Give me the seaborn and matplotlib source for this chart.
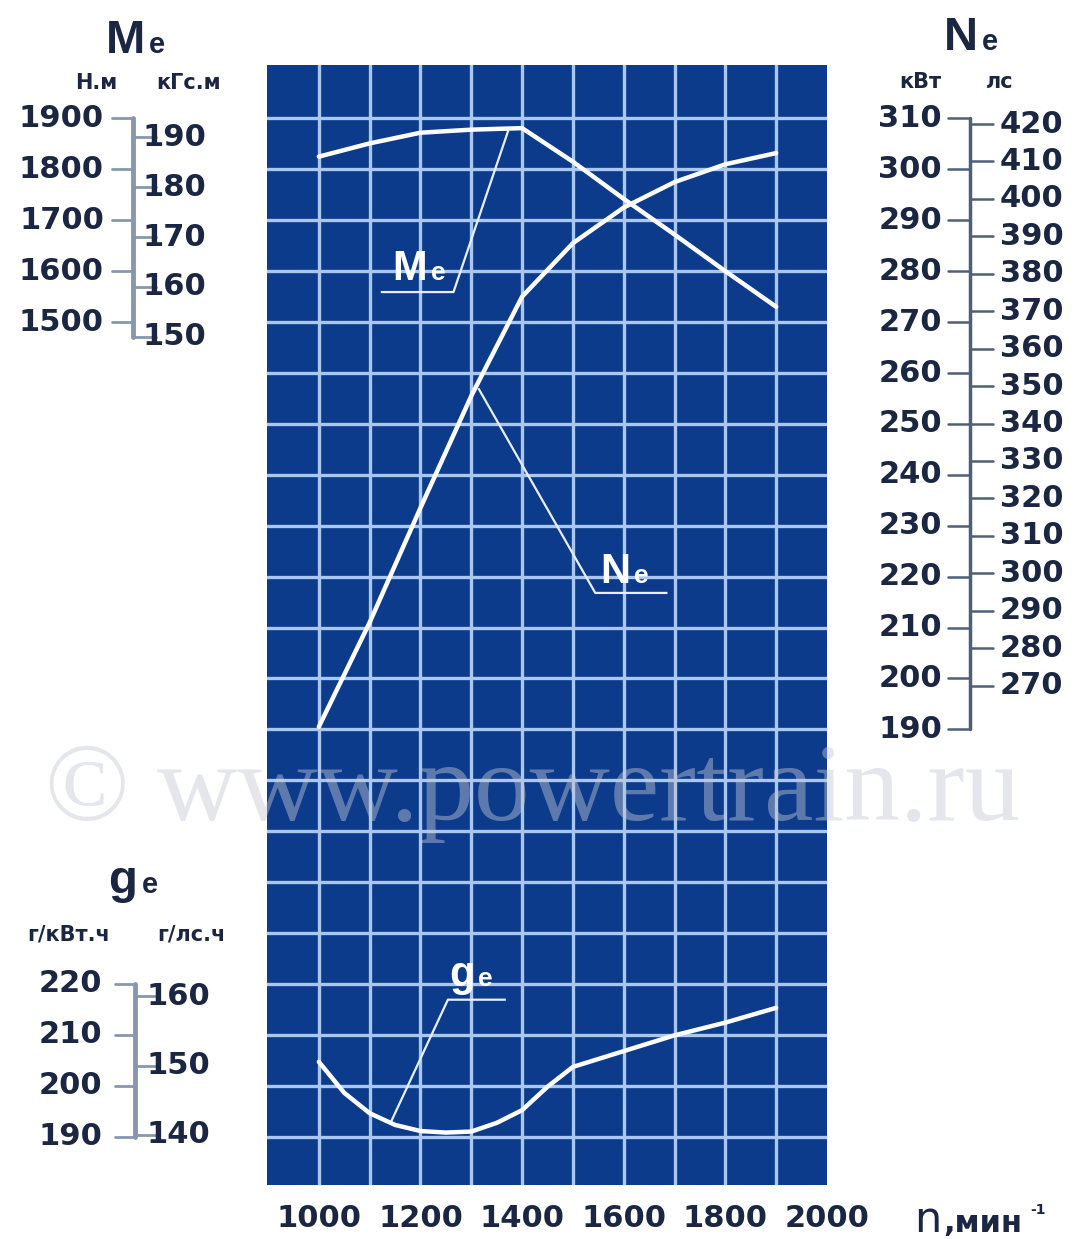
"""
Engine characteristic chart: torque Me, power Ne and specific fuel
consumption ge against crankshaft speed n.
"""

import matplotlib
matplotlib.use("Agg")
import matplotlib.pyplot as plt
import seaborn as sns
from matplotlib.transforms import blended_transform_factory as blend

# --- Data ---
rpm = [1000, 1100, 1200, 1300, 1400, 1500, 1600, 1700, 1800, 1900]
me_nm = [1825, 1851, 1872, 1878, 1881, 1815, 1742, 1672, 1600, 1530]
ne_kw = [190.5, 211, 233.5, 255.5, 275, 285.5, 292.5, 297.5, 301, 303.2]
ge_rpm = [1000, 1050, 1100, 1150, 1200, 1250, 1300, 1350, 1400, 1450, 1500,
          1600, 1700, 1800, 1900]
ge_gkwh = [204.7, 198.6, 194.6, 192.3, 191.1, 190.8, 191.0, 192.7, 195.2,
           199.8, 203.7, 206.8, 209.9, 212.4, 215.3]

# scale labels
me_nm_ticks = [1900, 1800, 1700, 1600, 1500]
me_kgf_ticks = [190, 180, 170, 160, 150]
ne_kw_ticks = [310, 300, 290, 280, 270, 260, 250, 240, 230, 220, 210, 200, 190]
ne_hp_ticks = [420, 410, 400, 390, 380, 370, 360, 350, 340, 330, 320, 310,
               300, 290, 280, 270]
ge_kwh_ticks = [220, 210, 200, 190]
ge_hph_ticks = [160, 150, 140]
x_grid = list(range(1000, 2000, 100))
x_last = 2000

KGF = 9.80665       # N.m per kgf.m
HP = 0.7355         # kW per hp

# --- Style ---
PANEL = "#0c3b8c"
GRID = "#a9c7f0"
INK = "#1b2742"
SCALE = "#8797ad"
W, H = 1085, 1239

sns.set_theme(style="white")
plt.rcParams["font.family"] = ["DejaVu Sans"]

fig = plt.figure(figsize=(W / 100, H / 100), dpi=100)
fig.patch.set_facecolor("white")
ax = fig.add_axes([267 / W, 1 - 1185 / H, 560 / W, 1120 / H])
ax.set_facecolor(PANEL)
ax.set_xlim(898, 2000)
ax.set_ylim(-195, 2005)

# grid every 100 rpm / 100 N.m, labels every 200 rpm
ax.set_xticks(x_grid)
ax.set_xticklabels([str(v) if v % 200 == 0 else "" for v in x_grid])
ax.set_xticks([x_last], minor=True)
ax.set_xticklabels([str(x_last)], minor=True)
ax.set_yticks(list(range(-100, 2000, 100)))
ax.set_yticklabels([])
ax.tick_params(axis="both", which="both", length=0)
ax.tick_params(axis="x", which="both", pad=14, labelsize=22, labelcolor=INK)
for lab in ax.get_xticklabels(which="both"):
    lab.set_fontweight("bold")
ax.grid(False)
ax.grid(True, which="major", axis="both", color=GRID, lw=2.4)
ax.set_axisbelow(True)
for s in ax.spines.values():
    s.set_visible(False)

# twin axes for Ne (kW) and ge (g/kWh), aligned with the N.m grid
ax_ne = ax.twinx()
ax_ne.set_ylim(-195 / 10 + 120, 2005 / 10 + 120)
ax_ge = ax.twinx()
ax_ge.set_ylim(-195 / 10 + 200, 2005 / 10 + 200)
for a in (ax_ne, ax_ge):
    a.set_yticks([])
    a.grid(False)
    for s in a.spines.values():
        s.set_visible(False)

# --- Curves ---
sns.lineplot(x=rpm, y=me_nm, ax=ax, color="white", lw=3.2, zorder=5)
sns.lineplot(x=rpm, y=ne_kw, ax=ax_ne, color="white", lw=3.2, zorder=5)
sns.lineplot(x=ge_rpm, y=ge_gkwh, ax=ax_ge, color="white", lw=3.2, zorder=5)
for a in (ax, ax_ne, ax_ge):
    a.set_xlabel("")
    a.set_ylabel("")

# --- Curve labels with leader lines ---
lead = dict(color="#e8f0ff", lw=1.6, solid_capstyle="butt")
ax.plot([1122, 1265, 1373], [1559, 1559, 1877], **lead)
ax.text(1145, 1583, "M", color="white", fontsize=30, fontweight="bold",
        family="Liberation Sans", ha="left", va="baseline")
ax.text(1220, 1583, "e", color="white", fontsize=19, fontweight="bold",
        family="Liberation Sans", ha="left", va="baseline")

ax_ne.plot([1314, 1544, 1686], [257, 216.8, 216.8], **lead)
ax_ne.text(1554, 218.8, "N", color="white", fontsize=30, fontweight="bold",
           family="Liberation Sans", ha="left", va="baseline")
ax_ne.text(1621, 218.8, "e", color="white", fontsize=19, fontweight="bold",
           family="Liberation Sans", ha="left", va="baseline")

ax_ge.plot([1142, 1254, 1368], [192.9, 216.9, 216.9], **lead)
ax_ge.text(1257, 219.5, "g", color="white", fontsize=30, fontweight="bold",
           family="Liberation Sans", ha="left", va="baseline")
ax_ge.text(1314, 219.5, "e", color="white", fontsize=19, fontweight="bold",
           family="Liberation Sans", ha="left", va="baseline")


def fx(px):
    """pixel column -> axes fraction"""
    return (px - 267) / 560


# --- Me scale (left, top) ---
tr = blend(ax.transAxes, ax.transData)
kgf_pos = [v * KGF for v in me_kgf_ticks]
ax.plot([fx(133), fx(133)], [me_nm_ticks[0], kgf_pos[-1]], transform=tr,
        color=SCALE, lw=3.5, clip_on=False)
for v in me_nm_ticks:
    ax.plot([fx(112), fx(133)], [v, v], transform=tr, color=SCALE, lw=2, clip_on=False)
    ax.text(fx(104), v, str(v), transform=tr, ha="right", va="center",
            fontsize=22, fontweight="bold", color=INK)
for v, p in zip(me_kgf_ticks, kgf_pos):
    ax.plot([fx(133), fx(156)], [p, p], transform=tr, color=SCALE, lw=2, clip_on=False)
    ax.text(fx(143), p, str(v), transform=tr, ha="left", va="center",
            fontsize=22, fontweight="bold", color=INK)

# --- Ne scale (right) ---
tr = blend(ax_ne.transAxes, ax_ne.transData)
ax_ne.plot([fx(970), fx(970)], [ne_kw_ticks[0], ne_kw_ticks[-1]], transform=tr,
           color="#4f5f78", lw=2.5, clip_on=False)
for v in ne_kw_ticks:
    ax_ne.plot([fx(948), fx(970)], [v, v], transform=tr, color="#4f5f78", lw=1.8, clip_on=False)
    ax_ne.text(fx(942), v, str(v), transform=tr, ha="right", va="center",
               fontsize=22, fontweight="bold", color=INK)
for v in ne_hp_ticks:
    p = v * HP
    ax_ne.plot([fx(970), fx(993)], [p, p], transform=tr, color="#4f5f78", lw=1.8, clip_on=False)
    ax_ne.text(fx(1000), p, str(v), transform=tr, ha="left", va="center",
               fontsize=22, fontweight="bold", color=INK)

# --- ge scale (left, bottom) ---
tr = blend(ax_ge.transAxes, ax_ge.transData)
ax_ge.plot([fx(135), fx(135)], [ge_kwh_ticks[0], ge_kwh_ticks[-1]], transform=tr,
           color=SCALE, lw=3.5, clip_on=False)
for v in ge_kwh_ticks:
    ax_ge.plot([fx(115), fx(135)], [v, v], transform=tr, color=SCALE, lw=2, clip_on=False)
    ax_ge.text(fx(102), v, str(v), transform=tr, ha="right", va="center",
               fontsize=22, fontweight="bold", color=INK)
for v in ge_hph_ticks:
    p = v / HP
    ax_ge.plot([fx(135), fx(157)], [p, p], transform=tr, color=SCALE, lw=2, clip_on=False)
    ax_ge.text(fx(147), p, str(v), transform=tr, ha="left", va="center",
               fontsize=22, fontweight="bold", color=INK)


# --- Titles and units (figure pixels) ---
def ftext(px, py, s, **kw):
    fig.text(px / W, 1 - py / H, s, color=INK, **kw)


big = dict(fontsize=34, fontweight="bold", family="Liberation Sans", va="baseline")
sub = dict(fontsize=21, fontweight="bold", family="Liberation Sans", va="baseline")
unit = dict(fontsize=15, fontweight="bold", va="baseline")

ftext(106, 53, "M", ha="left", **big)
ftext(149, 53, "e", ha="left", **sub)
ftext(96, 89, "Н.м", ha="center", **unit)
ftext(189, 89, "кГс.м", ha="center", **unit)

ftext(944, 50, "N", ha="left", **big)
ftext(982, 50, "e", ha="left", **sub)
ftext(920, 88, "кВт", ha="center", **unit)
ftext(1000, 88, "лс", ha="center", **unit)

ftext(108, 893, "g", ha="left", **big)
ftext(142, 893, "e", ha="left", **sub)
ftext(69, 941, "г/кВт.ч", ha="center", **unit)
ftext(191, 941, "г/лс.ч", ha="center", **unit)

# axis name n, min^-1
ftext(914, 1232, "n", ha="left", va="baseline", fontsize=31)
ftext(943, 1232, ",мин", ha="left", va="baseline", fontsize=22, fontweight="bold")
ftext(1030, 1214, "-1", ha="left", va="baseline", fontsize=10, fontweight="bold")

# --- Watermark ---
fig.text(45 / W, 1 - 820 / H, "© www.powertrain.ru", family="Liberation Serif",
         fontsize=80, color="#c4c9d4", alpha=0.45, ha="left", va="baseline", zorder=20)

fig.savefig("out.png", dpi=100, facecolor="white")
plt.close(fig)
